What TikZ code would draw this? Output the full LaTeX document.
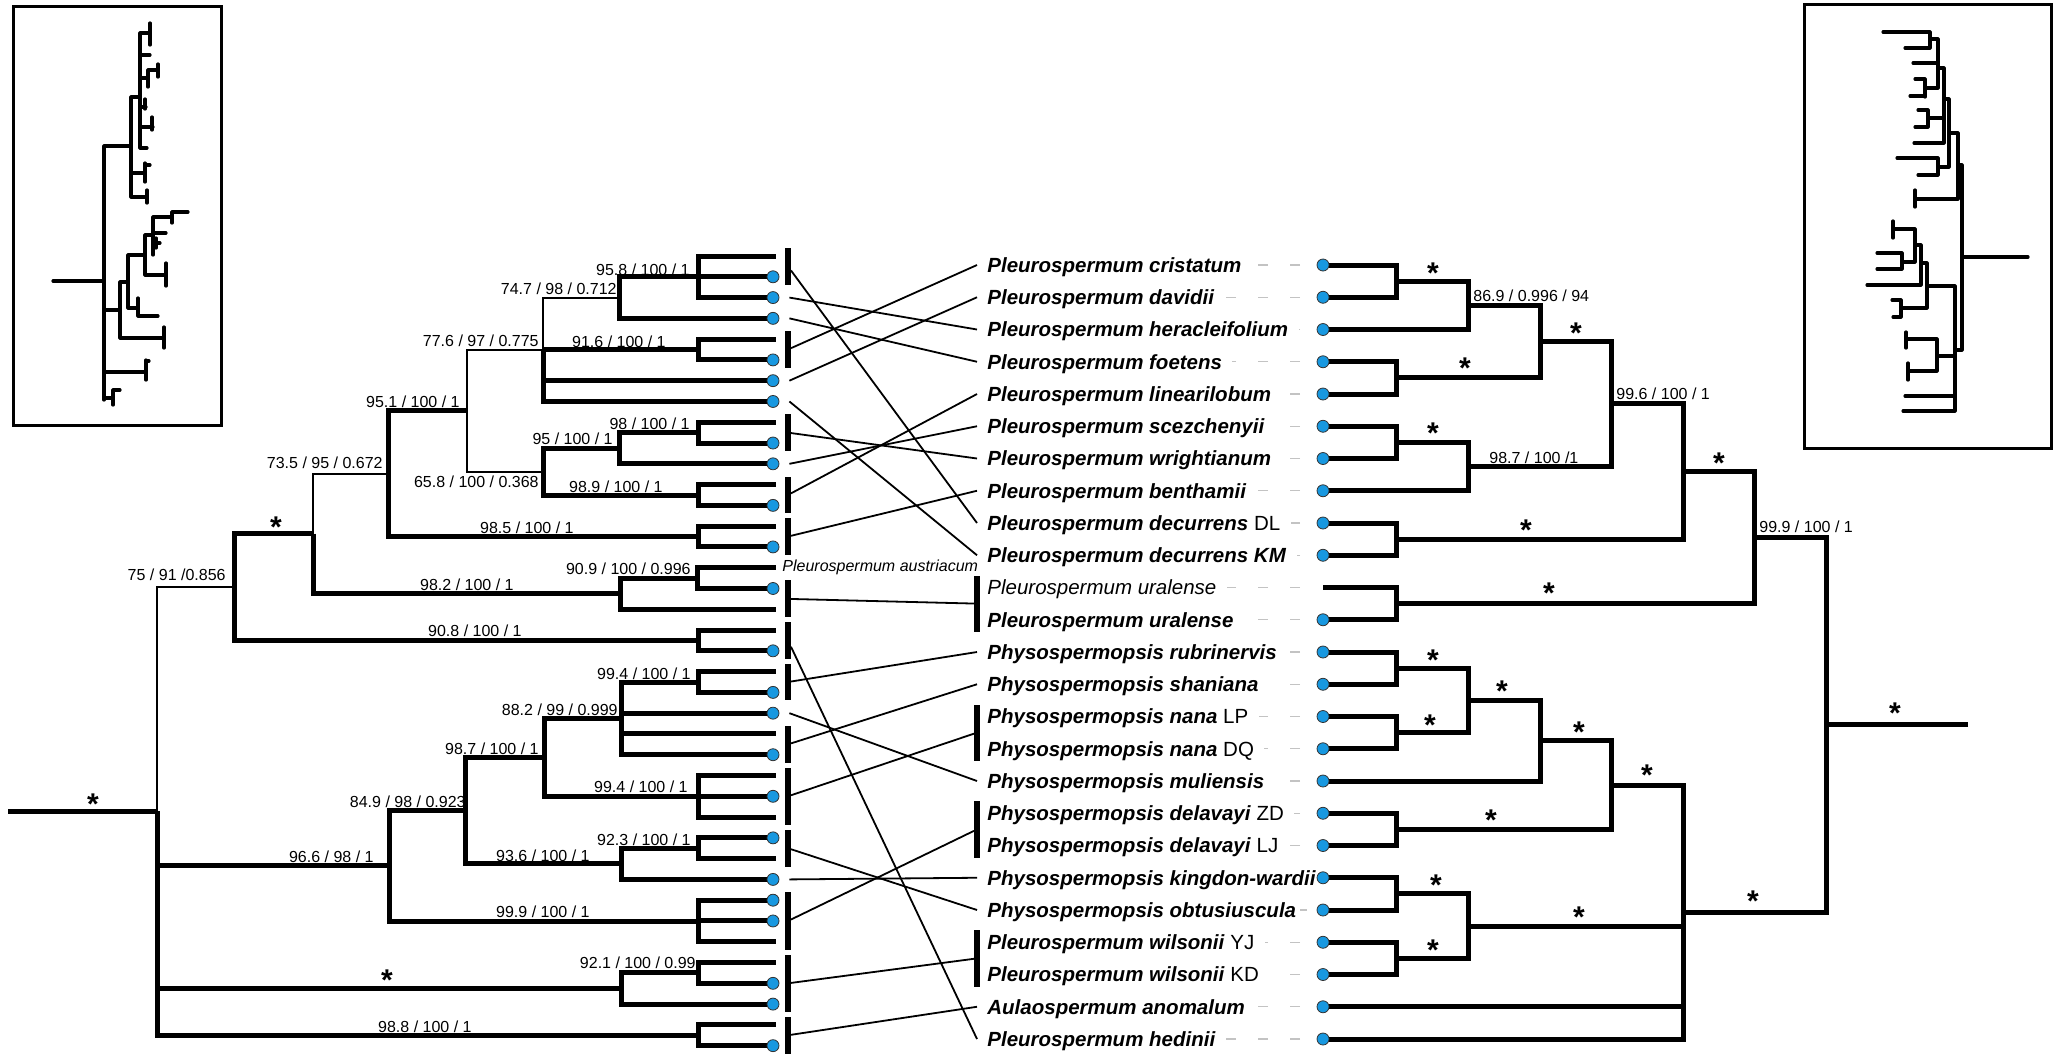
\documentclass[tikz,border=0pt]{standalone}
\usepackage{fontspec}
\setmainfont{Liberation Sans}
\usepackage{xcolor}
\usetikzlibrary{positioning}

\definecolor{tipblue}{RGB}{24,152,224}
\definecolor{dashgray}{RGB}{195,195,195}
\newcommand{\taxon}[1]{\textbf{\textit{#1}}}

\begin{document}
\begin{tikzpicture}[x=0.5pt, y=-0.5pt,
      branch/.style={draw, line width=2.5pt},
      weak/.style={draw, line width=1pt},
      line/.style={draw, line width=0.9pt},
      tipdot/.style={circle, draw=black!80, line width=0.4pt, fill=tipblue, minimum size=6pt, inner sep=0pt},
      groupbar/.style={rectangle, fill=black, minimum width=2.6pt, inner sep=0pt},
      support/.style={font=\fontsize{8}{9.6}\selectfont, inner sep=0pt, anchor=base east},
      rsupport/.style={font=\fontsize{8}{9.6}\selectfont, inner sep=0pt, anchor=base west},
      sig/.style={font=\fontsize{15}{15}\selectfont\bfseries, inner sep=0pt, anchor=north},
      taxlabel/.style={font=\fontsize{10.25}{12}\selectfont, inner xsep=5pt, inner ysep=0pt, anchor=west, text height=7.4pt, text depth=0pt},
      austri/.style={font=\fontsize{8}{9.6}\selectfont\itshape, inner sep=0pt},
      tipdash/.style={draw=dashgray, line width=0.7pt, dash pattern=on 5pt off 11pt},
      thumb/.style={draw, line width=1.6pt, line cap=round}
    ]
    \useasboundingbox (0,0) rectangle (2056,1056);

    % left tree
    \foreach \i in {0,...,38}
      \coordinate (L\i) at (776, 256+20.78*\i);
    \coordinate (lstem) at (8, 811);
    \coordinate (lroot) at (157, 811);
    \coordinate (lA) at (234, 587);
    \coordinate (lA1) at (313, 533.6);
    \coordinate (l951) at (388, 473.5);
    \coordinate (l776) at (467, 410.6);
    \coordinate (lpoly) at (543, 349.5);
    \coordinate (l747) at (619, 297.6);
    \coordinate (l958) at (698, 276.8);
    \coordinate (l916) at (698, 349.5);
    \coordinate (l658) at (543, 471.6);
    \coordinate (l95) at (619, 448.2);
    \coordinate (l98) at (698, 432.6);
    \coordinate (l989) at (698, 495);
    \coordinate (l985) at (698, 536.5);
    \coordinate (l982) at (620, 593.7);
    \coordinate (l909) at (697, 578.1);
    \coordinate (l908) at (698, 640.4);
    \coordinate (lB) at (389, 865.7);
    \coordinate (lB1) at (465, 810.5);
    \coordinate (l987) at (544, 757.3);
    \coordinate (l882) at (621, 718.4);
    \coordinate (l994a) at (698, 682);
    \coordinate (l994b) at (698, 796.3);
    \coordinate (l936) at (621, 863.8);
    \coordinate (l923) at (698, 848.2);
    \coordinate (l999) at (698, 921);
    \coordinate (lC) at (621, 988.5);
    \coordinate (l921) at (698, 972.9);
    \coordinate (lD) at (698, 1035.3);

    \path [branch] (lstem) -- (lroot);
    \foreach \p/\c in {lroot/lB, lroot/lC, lroot/lD, lA/lA1, lA/l908, lA1/l982, l951/l776, l951/l985,
        lpoly/l916, lpoly/L6, lpoly/L7, l747/l958, l747/L3, l958/L0, l958/L1, l958/L2, l916/L4, l916/L5,
        l658/l95, l658/l989, l95/l98, l95/L10, l98/L8, l98/L9, l989/L11, l989/L12, l985/L13, l985/L14,
        l982/l909, l982/L17, l909/L15, l909/L16, l908/L18, l908/L19, lB/lB1, lB/l999, lB1/l987, lB1/l936,
        l987/l882, l987/l994b, l882/l994a, l882/L22, l882/L23, l882/L24, l994a/L20, l994a/L21,
        l994b/L25, l994b/L26, l994b/L27, l936/l923, l936/L30, l923/L28, l923/L29,
        l999/L31, l999/L32, l999/L33, lC/l921, lC/L36, l921/L34, l921/L35, lD/L37, lD/L38}
      \path [branch] (\p) |- (\c);
    \foreach \p/\c in {lroot/lA, lA1/l951, l776/lpoly, l776/l658, lpoly/l747}
      \path [weak] (\p) |- (\c);

    \foreach \i in {1,2,3,5,6,7,9,10,12,14,16,19,21,22,24,26,28,30,31,32,35,36,38}
      \node [tipdot] (c\i) at ([xshift=-1.5pt]L\i) {};
    \node [austri, right=3pt of L15] (austriacum) {Pleurospermum austriacum};

    \node [support] (v958) at (690, 275) {95.8 / 100 / 1};
    \node [support] (v747) at (617, 294) {74.7 / 98 / 0.712};
    \node [support] (v776) at (539, 346) {77.6 / 97 / 0.775};
    \node [support] (v916) at (666, 347) {91.6 / 100 / 1};
    \node [support] (v951) at (460, 407) {95.1 / 100 / 1};
    \node [support] (v98) at (690, 429) {98 / 100 / 1};
    \node [support] (v95) at (613, 444) {95 / 100 / 1};
    \node [support] (v735) at (383, 468) {73.5 / 95 / 0.672};
    \node [support] (v658) at (539, 487) {65.8 / 100 / 0.368};
    \node [support] (v989) at (663, 492) {98.9 / 100 / 1};
    \node [support] (v985) at (574, 533) {98.5 / 100 / 1};
    \node [support] (v909) at (691, 574) {90.9 / 100 / 0.996};
    \node [support] (v982) at (514, 590) {98.2 / 100 / 1};
    \node [support] (v75) at (226, 580) {75 / 91 /0.856};
    \node [support] (v908) at (522, 636) {90.8 / 100 / 1};
    \node [support] (v994a) at (691, 679) {99.4 / 100 / 1};
    \node [support] (v882) at (618, 715) {88.2 / 99 / 0.999};
    \node [support] (v987) at (539, 754) {98.7 / 100 / 1};
    \node [support] (v994b) at (688, 792.5) {99.4 / 100 / 1};
    \node [support] (v849) at (466, 807) {84.9 / 98 / 0.923};
    \node [support] (v923) at (691, 845) {92.3 / 100 / 1};
    \node [support] (v936) at (590, 861) {93.6 / 100 / 1};
    \node [support] (v966) at (374, 862) {96.6 / 98 / 1};
    \node [support] (v999) at (590, 917.6) {99.9 / 100 / 1};
    \node [support] (v921) at (696, 968.5) {92.1 / 100 / 0.99};
    \node [support] (v988) at (472, 1032) {98.8 / 100 / 1};

    \foreach \nm/\a/\b in {lb01/0/1, lb45/4/5, lb89/8/9, lb1112/11/12, lb1314/13/14, lb1617/16/17,
        lb1819/18/19, lb2021/20/21, lb2324/23/24, lb2527/25/27, lb2829/28/29, lb3133/31/33,
        lb3436/34/36, lb3738/37/38}{
      \pgfmathsetmacro{\h}{10.39*(\b-\a)+8}
      \node [groupbar, minimum height=\h pt] (\nm) at (788, 256+10.39*\a+10.39*\b) {};
    }

    % right tree
    \foreach \j in {0,...,24}
      \coordinate (R\j) at (1323, 265+32.25*\j);
    \coordinate (rstem) at (1968, 724.5);
    \coordinate (rroot) at (1826, 724.5);
    \coordinate (r11) at (1754, 537);
    \coordinate (r9) at (1683, 471.3);
    \coordinate (r7) at (1611, 403.5);
    \coordinate (r4) at (1540, 341.6);
    \coordinate (r2) at (1468, 305.3);
    \coordinate (r1) at (1396, 281.1);
    \coordinate (r3) at (1396, 377.9);
    \coordinate (r6) at (1468, 466.6);
    \coordinate (r5) at (1396, 442.4);
    \coordinate (r8) at (1396, 539.1);
    \coordinate (r10) at (1396, 603.6);
    \coordinate (r21) at (1683, 912);
    \coordinate (r17) at (1611, 785);
    \coordinate (r15) at (1540, 740.7);
    \coordinate (r14) at (1468, 700.4);
    \coordinate (r12) at (1396, 668.1);
    \coordinate (r13) at (1396, 732.6);
    \coordinate (r16) at (1396, 829.4);
    \coordinate (r20) at (1468, 926.1);
    \coordinate (r18) at (1396, 893.9);
    \coordinate (r19) at (1396, 958.4);

    \path [branch] (rstem) -- (rroot);
    \foreach \p/\c in {rroot/r11, rroot/r21, r11/r9, r11/r10, r9/r7, r9/r8, r7/r4, r7/r6, r4/r2, r4/r3,
        r2/r1, r2/R2, r1/R0, r1/R1, r3/R3, r3/R4, r6/r5, r6/R7, r5/R5, r5/R6, r8/R8, r8/R9,
        r10/R10, r10/R11, r21/r17, r21/r20, r21/R23, r21/R24, r17/r15, r17/r16, r15/r14, r15/R16,
        r14/r12, r14/r13, r12/R12, r12/R13, r13/R14, r13/R15, r16/R17, r16/R18, r20/r18, r20/r19,
        r18/R19, r18/R20, r19/R21, r19/R22}
      \path [branch] (\p) |- (\c);
    \foreach \j in {0,...,9,11,12,...,24}
      \node [tipdot] (d\j) at (R\j) {};

    \node [rsupport] (v869) at (1473, 301) {86.9 / 0.996 / 94};
    \node [rsupport] (v996) at (1616, 399) {99.6 / 100 / 1};
    \node [rsupport] (v987r) at (1489, 463) {98.7 / 100 /1};
    \node [rsupport] (v999r) at (1759, 532) {99.9 / 100 / 1};

    \foreach \x/\y [count=\k] in {93/798.6, 276/522, 387/974.7,
        1433/268, 1465/363, 1576/328, 1433/428, 1526/525, 1719/458, 1549/588, 1895/708,
        1433/655, 1430/720, 1502/686, 1579/727, 1491/815, 1647/770, 1436/880, 1433/945,
        1579/912, 1753/896}
      \node [sig] (star\k) at (\x, \y-5.5) {*};

    % taxa
    \foreach \j/\nm/\txt in {
        0/cristatum/{\taxon{Pleurospermum cristatum}},
        1/davidii/{\taxon{Pleurospermum davidii}},
        2/heracleifolium/{\taxon{Pleurospermum heracleifolium}},
        3/foetens/{\taxon{Pleurospermum foetens}},
        4/linearilobum/{\taxon{Pleurospermum linearilobum}},
        5/scezchenyii/{\taxon{Pleurospermum scezchenyii}},
        6/wrightianum/{\taxon{Pleurospermum wrightianum}},
        7/benthamii/{\taxon{Pleurospermum benthamii}},
        8/decurrensDL/{\taxon{Pleurospermum decurrens} DL},
        9/decurrensKM/{\taxon{Pleurospermum decurrens KM}},
        10/uralenseA/{\textit{Pleurospermum uralense}},
        11/uralenseB/{\taxon{Pleurospermum uralense}},
        12/rubrinervis/{\taxon{Physospermopsis rubrinervis}},
        13/shaniana/{\taxon{Physospermopsis shaniana}},
        14/nanaLP/{\taxon{Physospermopsis nana} LP},
        15/nanaDQ/{\taxon{Physospermopsis nana} DQ},
        16/muliensis/{\taxon{Physospermopsis muliensis}},
        17/delavayiZD/{\taxon{Physospermopsis delavayi} ZD},
        18/delavayiLJ/{\taxon{Physospermopsis delavayi} LJ},
        19/kingdon/{\taxon{Physospermopsis kingdon-wardii}},
        20/obtusiuscula/{\taxon{Physospermopsis obtusiuscula}},
        21/wilsoniiYJ/{\taxon{Pleurospermum wilsonii} YJ},
        22/wilsoniiKD/{\taxon{Pleurospermum wilsonii} KD},
        23/anomalum/{\taxon{Aulaospermum anomalum}},
        24/hedinii/{\taxon{Pleurospermum hedinii}}}
      \node [taxlabel] (\nm) at (977, 265+32.25*\j) {\txt};

    \foreach \j/\nm in {0/cristatum, 1/davidii, 2/heracleifolium, 3/foetens, 4/linearilobum,
        5/scezchenyii, 6/wrightianum, 7/benthamii, 8/decurrensDL, 9/decurrensKM, 10/uralenseA,
        11/uralenseB, 12/rubrinervis, 13/shaniana, 14/nanaLP, 15/nanaDQ, 16/muliensis,
        17/delavayiZD, 18/delavayiLJ, 20/obtusiuscula, 21/wilsoniiYJ, 22/wilsoniiKD,
        23/anomalum, 24/hedinii}
      \path [tipdash] ([xshift=-11.5pt]R\j) -- (\nm.east);

    \foreach \nm/\a/\b in {rb1011/10/11, rb1415/14/15, rb1718/17/18, rb2122/21/22}{
      \pgfmathsetmacro{\h}{16.125*(\b-\a)+12}
      \node [groupbar, minimum height=\h pt] (\nm) at (977, 265+16.125*\a+16.125*\b) {};
    }

    % tanglegram links
    \path [line] (lb01) -- (decurrensDL.west);
    \path [line] ([xshift=5pt]c2.east) -- (heracleifolium.west);
    \path [line] ([xshift=5pt]c3.east) -- (foetens.west);
    \path [line] (lb45) -- (cristatum.west);
    \path [line] ([xshift=5pt]c6.east) -- (davidii.west);
    \path [line] ([xshift=5pt]c7.east) -- (decurrensKM.west);
    \path [line] (lb89) -- (wrightianum.west);
    \path [line] ([xshift=5pt]c10.east) -- (scezchenyii.west);
    \path [line] (lb1112) -- (linearilobum.west);
    \path [line] (lb1314) -- (benthamii.west);
    \path [line] (lb1617) -- (rb1011);
    \path [line] (lb1819) -- (hedinii.west);
    \path [line] (lb2021) -- (rubrinervis.west);
    \path [line] ([xshift=5pt]c22.east) -- (muliensis.west);
    \path [line] (lb2324) -- (shaniana.west);
    \path [line] (lb2527) -- (rb1415);
    \path [line] (lb2829) -- (obtusiuscula.west);
    \path [line] ([xshift=5pt]c30.east) -- (kingdon.west);
    \path [line] (lb3133) -- (rb1718);
    \path [line] (lb3436) -- (rb2122);
    \path [line] (lb3738) -- (anomalum.west);

    % thumbnails
    \draw [line width=1.5pt] (13,6) rectangle (221,425);
    \draw [thumb] (53,281) -- (104,281) (104,146) -- (104,400) (104,146) -- (131,146)
      (131,97) -- (131,197) (131,97) -- (140,97) (140,33) -- (140,148)
      (140,33) -- (150,33) (150,23) -- (150,45) (140,55) -- (150,55)
      (140,78) -- (148,78) (148,70) -- (148,87) (148,70) -- (158,70) (158,64) -- (158,77)
      (140,107) -- (146,107) (145,99) -- (145,109) (140,127) -- (153,127) (152,117) -- (152,130)
      (140,148) -- (147,148) (131,173) -- (145,173) (145,163) -- (145,182) (145,165) -- (150,165)
      (131,197) -- (147,197) (147,190) -- (147,203)
      (104,310) -- (120,310) (120,282) -- (120,338) (120,282) -- (128,282) (128,255) -- (128,308)
      (120,338) -- (163,338) (164,327) -- (164,348) (128,255) -- (145,255) (145,235) -- (145,275)
      (128,308) -- (138,308) (138,298) -- (138,316) (138,316) -- (158,316)
      (145,235) -- (153,235) (153,217) -- (153,255) (145,275) -- (166,275) (166,263) -- (166,286)
      (153,217) -- (172,217) (172,212) -- (172,223) (172,212) -- (188,212)
      (153,233) -- (166,233) (153,243) -- (160,243) (156,238) -- (156,248)
      (104,372) -- (145,372) (146,360) -- (146,380) (146,361) -- (149,361)
      (104,398) -- (112,398) (113,390) -- (113,405) (113,390) -- (120,390);

    \draw [line width=1.5pt] (1804,4) rectangle (2051,448);
    \draw [thumb] (1963,257) -- (2028,257) (1962,165) -- (1962,350)
      (1958,133) -- (1958,199) (1958,165) -- (1962,165)
      (1915,199) -- (1958,199) (1915,190) -- (1915,207) (1949,133) -- (1958,133) (1949,99) -- (1949,167)
      (1938,167) -- (1949,167) (1938,158) -- (1938,175) (1897,158) -- (1938,158) (1918,175) -- (1938,175)
      (1944,99) -- (1949,99) (1944,68) -- (1944,143) (1914,143) -- (1944,143)
      (1928,118) -- (1944,118) (1928,110) -- (1928,127) (1918,110) -- (1928,110) (1915,127) -- (1928,127)
      (1938,68) -- (1944,68) (1938,39) -- (1938,88)
      (1925,88) -- (1938,88) (1925,79) -- (1925,97) (1915,79) -- (1925,79) (1910,96) -- (1925,96)
      (1913,63) -- (1938,63) (1930,39) -- (1938,39) (1930,32) -- (1930,48) (1883,32) -- (1930,32) (1905,48) -- (1930,48)
      (1955,286) -- (1955,411) (1955,350) -- (1962,350) (1927,286) -- (1955,286) (1927,263) -- (1927,308)
      (1902,308) -- (1927,308) (1901,300) -- (1901,317) (1892,300) -- (1901,300) (1893,317) -- (1901,317)
      (1867,285) -- (1921,285) (1921,245) -- (1921,285) (1921,263) -- (1927,263)
      (1915,245) -- (1921,245) (1915,229) -- (1915,262) (1893,229) -- (1915,229) (1893,221) -- (1893,238)
      (1902,262) -- (1915,262) (1902,253) -- (1902,269) (1877,253) -- (1902,253) (1877,269) -- (1902,269)
      (1937,356) -- (1955,356) (1937,339) -- (1937,371) (1906,339) -- (1937,339) (1906,332) -- (1906,348)
      (1908,371) -- (1937,371) (1908,363) -- (1908,380) (1905,396) -- (1955,396) (1903,411) -- (1955,411);

\end{tikzpicture}
\end{document}
